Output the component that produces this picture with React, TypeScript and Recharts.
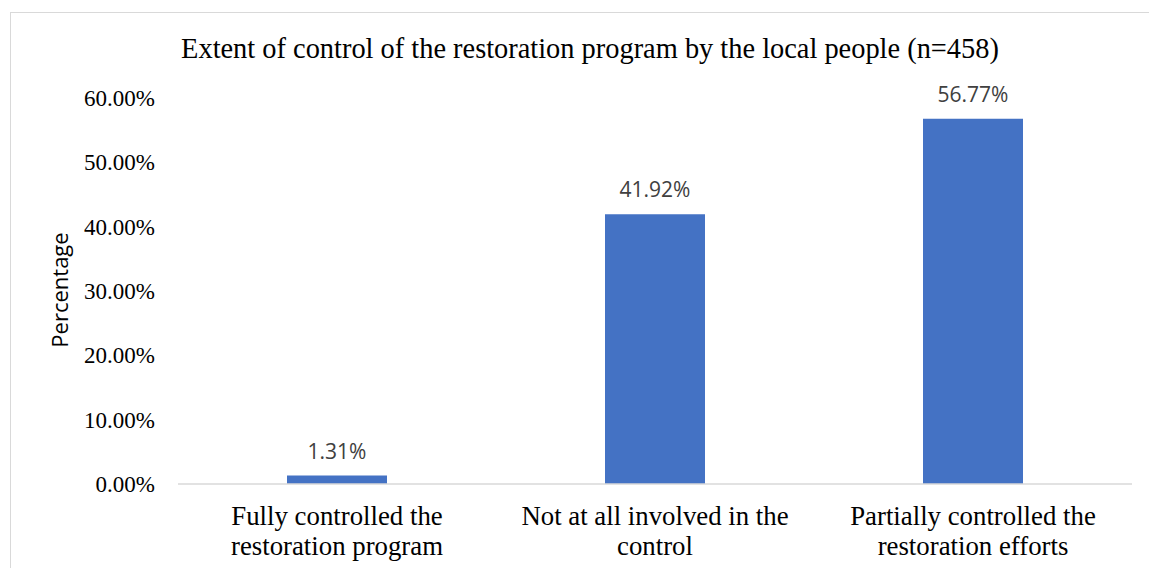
import { BarChart, Bar, XAxis, YAxis, LabelList } from "recharts";

const CATEGORIES = [
  "Fully controlled the\nrestoration program",
  "Not at all involved in the\ncontrol",
  "Partially controlled the\nrestoration efforts",
];
const PERCENTAGES = [1.31, 41.92, 56.77];
const Y_TICKS = [0, 10, 20, 30, 40, 50, 60];
const TITLE = "Extent of control of the restoration program by the local people (n=458)";
const Y_LABEL = "Percentage";

const SERIF = "'Liberation Serif', 'Times New Roman', serif";
const SANS = "'Open Sans', 'Noto Sans', sans-serif";

const data = CATEGORIES.map((category, i) => ({
  category,
  value: PERCENTAGES[i],
}));

const CategoryTick = (props: any) => {
  const { x, y, payload } = props;
  const lines = String(payload.value).split("\n");
  return (
    <text x={x} y={y} textAnchor="middle" fill="#000" fontFamily={SERIF} fontSize={26.8}>
      {lines.map((line, i) => (
        <tspan key={i} x={x} y={y + 41 + i * 30}>
          {line}
        </tspan>
      ))}
    </text>
  );
};

export default function App() {
  return (
    <div
      style={{
        position: "fixed",
        left: 0,
        top: 0,
        width: 1149,
        height: 568,
        overflow: "hidden",
        background: "#fff",
      }}
    >
      <div
        style={{
          position: "absolute",
          left: 10,
          top: 12,
          width: 1200,
          height: 600,
          border: "1px solid #d9d9d9",
        }}
      />
      <div style={{ position: "absolute", left: 0, top: 0 }}>
        <BarChart
          width={1149}
          height={568}
          data={data}
          margin={{ top: 98, right: 17, bottom: 0, left: 0 }}
        >
          <XAxis
            dataKey="category"
            height={84}
            interval={0}
            axisLine={{ stroke: "#d9d9d9", strokeWidth: 1.5 }}
            tickLine={false}
            tickSize={0}
            tickMargin={0}
            tick={<CategoryTick />}
          />
          <YAxis
            width={178}
            domain={[0, 60]}
            ticks={Y_TICKS}
            axisLine={false}
            tickLine={false}
            tickSize={0}
            tickMargin={23}
            tickFormatter={(v: number) => v.toFixed(2) + "%"}
            tick={{ fill: "#000", fontSize: 23, fontFamily: SERIF }}
          />
          <Bar dataKey="value" fill="#4472C4" barSize={100} isAnimationActive={false}>
            <LabelList
              dataKey="value"
              position="top"
              offset={17}
              formatter={(v: any) => Number(v).toFixed(2) + "%"}
              fill="#404040"
              fontSize={21}
              fontFamily={SANS}
            />
          </Bar>
        </BarChart>
      </div>
      <svg
        width={1149}
        height={568}
        style={{ position: "absolute", left: 0, top: 0, pointerEvents: "none" }}
      >
        <text x={590} y={58} textAnchor="middle" fontFamily={SERIF} fontSize={28.4} fill="#000">
          {TITLE}
        </text>
        <text
          transform="translate(68, 290) rotate(-90)"
          textAnchor="middle"
          fontFamily={SANS}
          fontSize={22}
          fill="#000"
        >
          {Y_LABEL}
        </text>
      </svg>
    </div>
  );
}
